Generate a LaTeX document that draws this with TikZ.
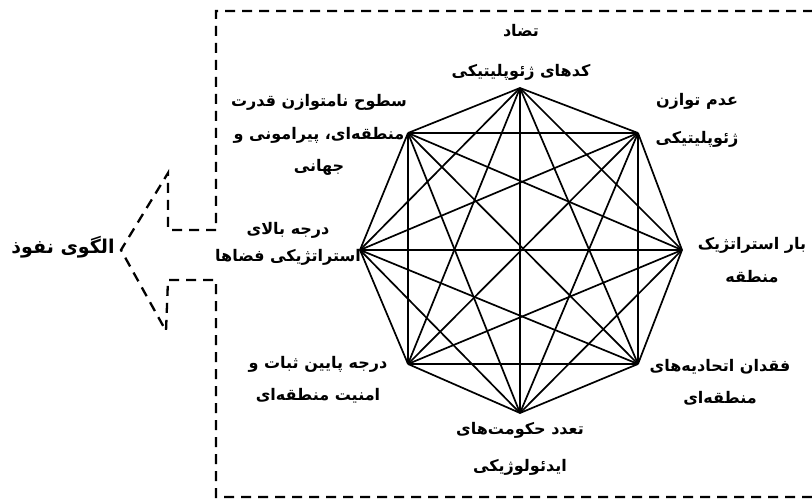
\documentclass[tikz,border=0pt]{standalone}
\usepackage{fontspec}
\TeXXeTstate=1
\newfontfamily\arabicfont[Script=Arabic]{DejaVu Sans Bold}
\newcommand{\fa}[1]{\beginR #1\endR}
\begin{document}
\begin{tikzpicture}[x=1pt,y=-1pt,
  lbl/.style={font=\arabicfont\fontsize{16}{#1}\selectfont, align=center, inner sep=0pt},
  lbl/.default=33,
  edge/.style={line width=1.7pt},
  framepath/.style={line width=2.3pt, dash pattern=on 10pt off 7pt}]
\useasboundingbox (0,0) rectangle (812,500);
% octagon vertices
\coordinate (v1) at (520,88);
\coordinate (v2) at (638,133);
\coordinate (v3) at (682,250);
\coordinate (v4) at (638,364);
\coordinate (v5) at (520,413);
\coordinate (v6) at (408,364);
\coordinate (v7) at (360,250);
\coordinate (v8) at (408,133);
\foreach \i in {1,...,7}{
  \pgfmathtruncatemacro\s{\i+1}
  \foreach \j in {\s,...,8}{\draw[edge] (v\i) -- (v\j);}
}
% frame with arrow
\draw[framepath] (830,11) -- (216,11) -- (216,230) -- (168,230) -- (168,173)
  -- (121,250) -- (166,331) -- (168,280) -- (216,280) -- (216,497) -- (830,497);
% labels
\node[lbl=40] (ltop) at (521,52) {\fa{تضاد}\\\fa{کدهای ژئوپلیتیکی}};
\node[lbl=38] (lur) at (697,120) {\fa{عدم توازن}\\\fa{ژئوپلیتیکی}};
\node[lbl=33] (lr) at (752,260) {\fa{بار استراتژیک}\\\fa{منطقه}};
\node[lbl=32] (llr) at (720,382) {\fa{فقدان اتحادیه‌های}\\\fa{منطقه‌ای}};
\node[lbl=37] (lb) at (520,449) {\fa{تعدد حکومت‌های}\\\fa{ایدئولوژیکی}};
\node[lbl=32] (lll) at (318,380) {\fa{درجه پایین ثبات و}\\\fa{امنیت منطقه‌ای}};
\node[lbl=27] (ll) at (288,244) {\fa{درجه بالای}\\\fa{استراتژیکی فضاها}};
\node[lbl=32.5] (lul) at (319,135) {\fa{سطوح نامتوازن قدرت}\\\fa{منطقه‌ای، پیرامونی و}\\\fa{جهانی}};
\node[font=\arabicfont\fontsize{19}{22}\selectfont, inner sep=0pt] (main) at (63,247) {\fa{الگوی نفوذ}};
\end{tikzpicture}
\end{document}
